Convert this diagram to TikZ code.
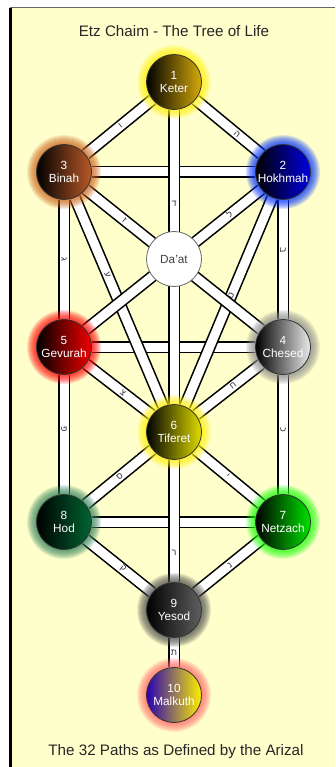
\documentclass[tikz,border=0pt]{standalone}
\usepackage{fontspec}
\setmainfont{Liberation Sans}
\newfontfamily\hebfont[Script=Hebrew]{Liberation Sans}
\TeXXeTstate=1
\definecolor{TreeBg}{RGB}{255,255,204}
\definecolor{KeterC}{RGB}{215,170,10}
\definecolor{HokhC}{RGB}{0,0,225}
\definecolor{BinahC}{RGB}{185,90,40}
\definecolor{GevC}{RGB}{240,0,0}
\definecolor{ChesC}{RGB}{235,235,235}
\definecolor{TifC}{RGB}{225,220,0}
\definecolor{HodC}{RGB}{0,100,50}
\definecolor{NetzC}{RGB}{0,225,0}
\definecolor{YesC}{RGB}{95,95,95}
\definecolor{MalkBlue}{RGB}{40,0,180}
\definecolor{MalkRed}{RGB}{255,0,0}
\definecolor{MalkYel}{RGB}{255,240,0}
\pgfdeclarelayer{board}
\pgfdeclarelayer{paths}
\pgfdeclarelayer{glows}
\pgfsetlayers{board,paths,glows,main}
\tikzset{
	sefira/.style={circle, draw=black!80, line width=0.8pt, minimum size=55pt, inner sep=0pt,
		align=center, text=white, font=\fontsize{11.8}{13}\selectfont},
	daat/.style={sefira, fill=white, draw=black!60, text=black!75},
	pathway/.style={draw=black, line width=1.6pt, double=white, double distance=9pt},
	letter/.style={inner sep=0pt, text=black!80, font=\hebfont\fontsize{9}{9}\selectfont},
	glow/.style={fill=#1, opacity=0.13},
	caption/.style={anchor=base, text=black!85, font=\fontsize{15.2}{15.2}\selectfont}
}
\newcommand{\heb}[1]{\beginR #1\endR}

\begin{document}
\begin{tikzpicture}[x=1pt, y=-1pt]
	\useasboundingbox (0,0) rectangle (335,767);
	\begin{pgfonlayer}{board}
		\fill[white] (0,0) rectangle (335,767);
		\fill[TreeBg] (10,8) rectangle (335,767);
		\draw[black!60, line width=1pt] (10,8) -- (335,8);
		\draw[black, line width=3pt] (10.5,8) -- (10.5,767);
	\end{pgfonlayer}
	
	\node[caption] (title) at (174,37) {Etz Chaim - The Tree of Life};
	\node[caption] (arizal) at (176,755) {The 32 Paths as Defined by the Arizal};
	
	\node[sefira, left color=black, right color=KeterC] (keter) at (174,82) {1\\Keter};
	\node[sefira, left color=black, right color=HokhC] (hokhmah) at (283,172) {2\\Hokhmah};
	\node[sefira, left color=black, right color=BinahC] (binah) at (64,172) {3\\Binah};
	\node[daat] (daat) at (174,259) {Da'at};
	\node[sefira, left color=black, right color=ChesC] (chesed) at (283,347) {4\\Chesed};
	\node[sefira, left color=black, right color=GevC] (gevurah) at (64,347) {5\\Gevurah};
	\node[sefira, left color=black, right color=TifC] (tiferet) at (174,432) {6\\Tiferet};
	\node[sefira, left color=black, right color=NetzC] (netzach) at (283,522) {7\\Netzach};
	\node[sefira, left color=black, right color=HodC] (hod) at (64,522) {8\\Hod};
	\node[sefira, left color=black, right color=YesC] (yesod) at (174,610) {9\\Yesod};
	\node[sefira, left color=MalkBlue, middle color=MalkRed, right color=MalkYel] (malkuth) at (174,695) {10\\Malkuth};
	
	\begin{pgfonlayer}{paths}
		% the three mothers
		\draw[pathway] (binah) -- node[letter] {\heb{ש}} (hokhmah);
		\draw[pathway] (gevurah) -- node[letter] {\heb{א}} (chesed);
		\draw[pathway] (hod) -- node[letter] {\heb{מ}} (netzach);
		% the seven doubles
		\draw[pathway] (keter) -- node[letter, pos=0.32] {\heb{ד}} (tiferet);
		\draw[pathway] (hokhmah) -- node[letter, sloped, pos=0.42] {\heb{ב}} (chesed);
		\draw[pathway] (binah) -- node[letter, sloped] {\heb{ג}} (gevurah);
		\draw[pathway] (chesed) -- node[letter, sloped, pos=0.46] {\heb{כ}} (netzach);
		\draw[pathway] (gevurah) -- node[letter, sloped, pos=0.46] {\heb{פ}} (hod);
		\draw[pathway] (tiferet) -- node[letter, pos=0.76] {\heb{ר}} (yesod);
		\draw[pathway] (yesod) -- node[letter] {\heb{ת}} (malkuth);
		% the twelve simples
		\draw[pathway] (keter) -- node[letter, sloped, pos=0.63] {\heb{ה}} (hokhmah);
		\draw[pathway] (keter) -- node[letter, sloped, pos=0.48] {\heb{ו}} (binah);
		\draw[pathway] (binah) -- node[letter, sloped, pos=0.37] {\heb{ע}} (tiferet);
		\draw[pathway] (hokhmah) -- node[letter, sloped, pos=0.47] {\heb{ט}} (tiferet);
		\draw[pathway] (binah) -- node[letter, sloped, pos=0.22] {\heb{ז}} (chesed);
		\draw[pathway] (hokhmah) -- node[letter, sloped, pos=0.18] {\heb{ל}} (gevurah);
		\draw[pathway] (gevurah) -- node[letter, sloped, pos=0.56] {\heb{צ}} (tiferet);
		\draw[pathway] (chesed) -- node[letter, sloped, pos=0.43] {\heb{ח}} (tiferet);
		\draw[pathway] (tiferet) -- node[letter, sloped, pos=0.49] {\heb{ס}} (hod);
		\draw[pathway] (tiferet) -- node[letter, sloped, pos=0.49] {\heb{י}} (netzach);
		\draw[pathway] (hod) -- node[letter, sloped, pos=0.56] {\heb{ק}} (yesod);
		\draw[pathway] (netzach) -- node[letter, sloped, pos=0.48] {\heb{נ}} (yesod);
	\end{pgfonlayer}
	
	\begin{pgfonlayer}{glows}
		\foreach \s/\c in {keter/yellow, hokhmah/blue!80!cyan, binah/BinahC!70!orange,
			chesed/black!45, gevurah/red, tiferet/yellow, netzach/green!90!lime,
			hod/HodC!80, yesod/black!70, malkuth/red!60!white}
		\foreach \r in {28,...,37}
		\fill[glow=\c] (\s) circle (\r pt);
	\end{pgfonlayer}
\end{tikzpicture}
\end{document}
